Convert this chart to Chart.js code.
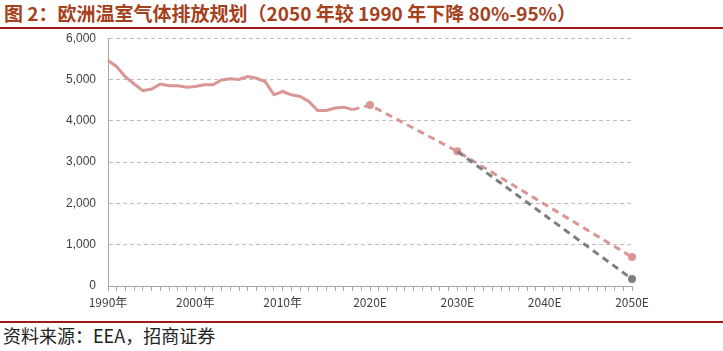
<!DOCTYPE html>
<html>
<head>
<meta charset="utf-8">
<script src="https://cdn.jsdelivr.net/npm/chart.js@4.4.1/dist/chart.umd.min.js"></script>
<style>
  body { margin: 0; width: 723px; height: 351px; background: #fff; position: relative; overflow: hidden; font-family: 'Noto Sans CJK SC', 'Noto Sans', sans-serif; }
  #title { position: absolute; left: 4px; top: -1px; font-size: 19px; font-weight: bold; color: #A5411C; white-space: nowrap; }
  #topline { position: absolute; left: 0; top: 27px; width: 723px; height: 2px; background: #9B1B1B; }
  #bottomline { position: absolute; left: 0; top: 321px; width: 723px; height: 2px; background: #9B1B1B; }
  #source { position: absolute; left: 3px; top: 322px; font-size: 18px; color: #222; white-space: nowrap; }
  #wrap { position: absolute; left: 0; top: 19px; width: 723px; height: 301px; }
</style>
</head>
<body>
<div id="title">图 2：欧洲温室气体排放规划（2050 年较 1990 年下降 80%-95%）</div>
<div id="topline"></div>
<div id="wrap"><canvas id="myChart" width="723" height="301"></canvas></div>
<div id="bottomline"></div>
<div id="source">资料来源：EEA，招商证券</div>
<script>
// categories: one per year
const years = [
  1990, 1991, 1992, 1993, 1994, 1995, 1996, 1997, 1998, 1999,
  2000, 2001, 2002, 2003, 2004, 2005, 2006, 2007, 2008, 2009,
  2010, 2011, 2012, 2013, 2014, 2015, 2016, 2017, 2018, 2019,
  2020, 2021, 2022, 2023, 2024, 2025, 2026, 2027, 2028, 2029,
  2030, 2031, 2032, 2033, 2034, 2035, 2036, 2037, 2038, 2039,
  2040, 2041, 2042, 2043, 2044, 2045, 2046, 2047, 2048, 2049,
  2050
];

// tick labels shown on the x axis
const tickYears = [1990, 2000, 2010, 2020, 2030, 2040, 2050];
const tickLabels = ['1990年', '2000年', '2010年', '2020E', '2030E', '2040E', '2050E'];

// historical emissions 1990-2018 (Mt CO2e)
const historyYears = [1990, 1991, 1992, 1993, 1994, 1995, 1996, 1997, 1998, 1999,
  2000, 2001, 2002, 2003, 2004, 2005, 2006, 2007, 2008, 2009,
  2010, 2011, 2012, 2013, 2014, 2015, 2016, 2017, 2018];
const historyValues = [5460, 5310, 5060, 4890, 4730, 4770, 4890, 4850, 4850, 4810,
  4830, 4870, 4870, 4990, 5020, 5000, 5070, 5030, 4950, 4630,
  4710, 4630, 4590, 4470, 4250, 4250, 4310, 4330, 4270];

// target path, -80% by 2050
const target80Years = [2018, 2020, 2030, 2050];
const target80Values = [4270, 4380, 3260, 700];

// target path, -95% by 2050
const target95Years = [2030, 2050];
const target95Values = [3260, 170];

function toSeries(xs, vs) {
  return years.map(y => {
    const i = xs.indexOf(y);
    return i >= 0 ? vs[i] : null;
  });
}

const pink = '#D99694';
const grey = '#7F7F7F';
const yFont = { family: "'Liberation Sans', 'Noto Sans CJK SC', sans-serif", size: 12 };
const xFont = { family: "'Noto Sans CJK SC', 'Liberation Sans', sans-serif", size: 12 };

const ctx = document.getElementById('myChart').getContext('2d');
const chart = new Chart(ctx, {
  type: 'line',
  data: {
    labels: years,
    datasets: [
      {
        label: '历史排放',
        data: toSeries(historyYears, historyValues),
        borderColor: pink,
        borderWidth: 3,
        pointRadius: 0,
        tension: 0,
      },
      {
        label: '2050年较1990年下降95%',
        data: toSeries(target95Years, target95Values),
        borderColor: grey,
        backgroundColor: grey,
        borderWidth: 3,
        borderDash: [7, 5],
        spanGaps: true,
        pointRadius: ctx => (ctx.raw !== null && years[ctx.dataIndex] === 2050 ? 4 : 0),
        pointBorderWidth: 0,
      },
      {
        label: '2050年较1990年下降80%',
        data: toSeries(target80Years, target80Values),
        borderColor: pink,
        backgroundColor: pink,
        borderWidth: 3,
        borderDash: [7, 5],
        spanGaps: true,
        pointRadius: ctx => (ctx.raw !== null && years[ctx.dataIndex] !== 2018 ? 4 : 0),
        pointBorderWidth: 0,
      },
    ],
  },
  options: {
    responsive: false,
    animation: false,
    devicePixelRatio: 1,
    layout: { padding: { top: 0, right: 91, left: 0, bottom: 0 } },
    plugins: {
      legend: { display: false },
      tooltip: { enabled: false },
    },
    scales: {
      x: {
        type: 'category',
        offset: false,
        grid: {
          drawOnChartArea: false,
          drawTicks: true,
          tickLength: 5,
          color: '#A6A6A6',
        },
        border: { display: true, color: '#A6A6A6', width: 1 },
        ticks: {
          autoSkip: false,
          maxRotation: 0,
          padding: 4,
          color: '#404040',
          font: xFont,
          callback: function (value, index) {
            const i = tickYears.indexOf(years[index]);
            return i >= 0 ? tickLabels[i] : '';
          },
        },
        afterFit: scale => { scale.height = 34; },
      },
      y: {
        min: 0,
        max: 6000,
        ticks: {
          stepSize: 1000,
          padding: 12,
          color: '#404040',
          font: yFont,
          callback: v => v.toLocaleString('en-US'),
        },
        grid: { drawTicks: false, color: '#BFBFBF', lineWidth: 1 },
        border: { display: true, color: '#A6A6A6', width: 1, dash: [4, 3] },
        afterFit: scale => { scale.width = 108; },
      },
    },
  },
});
</script>
</body>
</html>
